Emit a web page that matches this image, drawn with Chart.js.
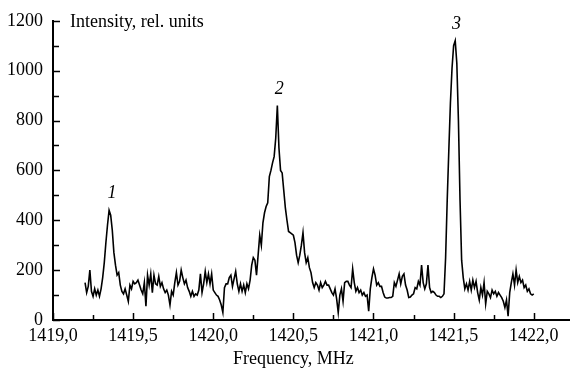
<!DOCTYPE html>
<html lang="en">
<head>
    <meta charset="UTF-8">
    <title>Spectrum: three lines</title>
    <script src="https://cdn.jsdelivr.net/npm/chart.js@4"></script>
    <style>
        body { margin: 0; background: #fff; }
        canvas { display: block; }
    </style>
</head>
<body>

    <canvas id="spectrum" width="576" height="369"></canvas>

    <script type='text/javascript'>
    // spectrum, one point every 0.01 MHz from 1419.20 to 1422.00
    const freqStart = 1419.20;
    const freqStep = 0.01;
    const intensity = [
        150,110,135,200,115,95,125,100,120,95,
        125,170,230,310,380,440,420,360,270,220,
        180,190,140,115,105,125,100,75,140,125,
        155,145,150,160,140,120,105,150,55,180,
        140,185,110,180,145,140,175,135,150,125,
        110,120,100,60,115,100,150,190,140,155,
        200,170,145,160,130,115,95,115,95,105,
        100,120,185,110,145,195,150,185,145,185,
        120,110,100,95,80,60,30,130,145,145,
        170,180,135,165,195,145,115,145,115,140,
        110,145,125,160,220,250,240,180,260,340,
        300,390,430,455,470,575,600,630,655,730,
        860,690,600,590,520,450,400,355,350,345,
        340,310,260,230,260,300,350,270,230,250,
        210,190,150,130,150,140,120,150,130,140,
        155,140,140,125,110,100,125,85,30,100,
        125,75,150,155,155,140,130,205,150,115,
        130,110,120,100,110,95,100,35,125,170,
        205,180,140,150,135,135,110,92,88,88,
        90,90,95,150,135,160,185,145,175,185,
        140,120,90,92,100,105,130,125,155,140,
        220,150,125,145,220,130,110,115,110,100,
        95,95,90,95,105,250,480,680,870,1010,
        1100,1120,1030,800,480,240,170,125,145,120,
        155,120,160,130,155,110,80,130,100,150,
        65,115,105,90,120,105,115,95,110,100,
        90,75,50,80,15,110,150,185,140,200,
        150,175,150,160,130,140,115,125,105,100,
        105
    ];

    // peak numbers and where they sit
    const peakLabels = ['1', '2', '3'];
    const peakFreqs = [1419.355, 1420.40, 1421.505];
    const peakValues = [440, 860, 1120];

    // axis ranges and titles
    const xMin = 1419.0, xMax = 1422.22, xStep = 0.25;
    const yMin = 0, yMax = 1200, yStep = 100;
    const xTitle = 'Frequency, MHz';
    const yTitle = 'Intensity, rel. units';

    const points = intensity.map((v, i) => ({ x: +(freqStart + i * freqStep).toFixed(2), y: v }));

    const serif = '"Liberation Serif", "Times New Roman", serif';

    // ticks pointing into the plot, axis titles and peak numbers
    const extras = {
        id: 'extras',
        afterDraw(chart) {
            const ctx = chart.ctx;
            const xs = chart.scales.x, ys = chart.scales.y;
            const a = chart.chartArea;
            ctx.save();
            ctx.strokeStyle = '#000';
            ctx.lineWidth = 1.5;
            ctx.beginPath();
            xs.ticks.forEach(t => {
                const px = Math.round(xs.getPixelForValue(t.value)) + 0.5;
                const len = t.label ? 7 : 5;
                ctx.moveTo(px, a.bottom);
                ctx.lineTo(px, a.bottom - len);
            });
            ys.ticks.forEach(t => {
                const py = Math.round(ys.getPixelForValue(t.value)) + 0.5;
                const len = t.label ? 7 : 6;
                ctx.moveTo(a.left, py);
                ctx.lineTo(a.left + len, py);
            });
            ctx.stroke();

            ctx.fillStyle = '#000';
            ctx.font = '18px ' + serif;
            ctx.textBaseline = 'alphabetic';
            ctx.textAlign = 'left';
            ctx.fillText(yTitle, a.left + 17, a.top + 6);
            ctx.textAlign = 'center';
            ctx.fillText(xTitle, xs.getPixelForValue(1420.5), 364);

            ctx.font = 'italic 18px ' + serif;
            peakLabels.forEach((lab, i) => {
                ctx.fillText(lab, xs.getPixelForValue(peakFreqs[i]) + 2,
                             ys.getPixelForValue(peakValues[i]) - 12);
            });
            ctx.restore();
        }
    };

    const ctx = document.getElementById('spectrum').getContext('2d');

    new Chart(ctx, {
        type: 'line',
        data: {
            datasets: [{
                data: points,
                borderColor: '#000',
                borderWidth: 1.6,
                pointRadius: 0,
                tension: 0,
                fill: false
            }]
        },
        options: {
            responsive: false,
            animation: false,
            layout: { padding: { top: 20, right: 7, left: 0, bottom: 0 } },
            plugins: { legend: { display: false }, tooltip: { enabled: false } },
            scales: {
                x: {
                    type: 'linear',
                    min: xMin, max: xMax,
                    grid: { display: false, drawTicks: false, tickLength: 0 },
                    border: { display: true, color: '#000', width: 2 },
                    ticks: {
                        stepSize: xStep,
                        includeBounds: false,
                        autoSkip: false,
                        maxRotation: 0,
                        padding: 5,
                        color: '#000',
                        font: { family: serif, size: 18 },
                        callback: v => Math.abs(v * 2 - Math.round(v * 2)) < 1e-6 ? v.toFixed(1).replace('.', ',') : ''
                    },
                    afterFit: s => { s.height = 49; }
                },
                y: {
                    min: yMin, max: yMax,
                    grid: { display: false, drawTicks: false, tickLength: 0 },
                    border: { display: true, color: '#000', width: 2 },
                    ticks: {
                        stepSize: yStep,
                        autoSkip: false,
                        padding: 10,
                        color: '#000',
                        font: { family: serif, size: 18 },
                        callback: v => v % 200 === 0 ? String(v) : ''
                    },
                    afterFit: s => { s.width = 53; }
                }
            }
        },
        plugins: [extras]
    });
    </script>

</body></html>
